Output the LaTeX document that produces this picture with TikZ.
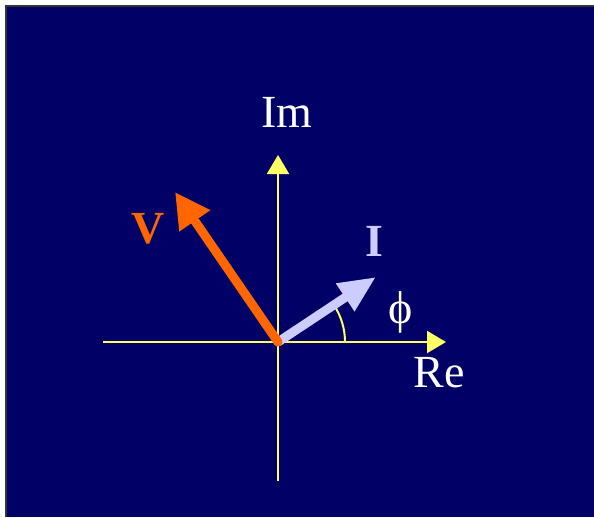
\documentclass[tikz,border=0pt]{standalone}
\usepackage{fontspec}
\setmainfont{Liberation Serif}
\usetikzlibrary{arrows.meta}
\definecolor{navy}{HTML}{000066}
\definecolor{axisyellow}{HTML}{FFFF66}
\definecolor{vorange}{HTML}{FF6600}
\definecolor{ilav}{HTML}{CCCCFF}
\definecolor{frame}{HTML}{333333}
\tikzset{
  axis/.style={draw=axisyellow, line width=2pt, -{Triangle[length=19pt,width=22pt]}},
  phasor/.style={line width=9pt, line cap=round},
  lbl/.style={font=\fontsize{46}{50}\selectfont, text=white, inner sep=0pt},
}
\begin{document}
\begin{tikzpicture}[x=1pt,y=-1pt]
\useasboundingbox (0,0) rectangle (594,517);
\fill[white] (0,0) rectangle (594,517);
\fill[navy] (6,6) rectangle (594,517);
\draw[frame, line width=2pt] (6,517) -- (6,6) -- (594,6);
\coordinate (O) at (278,342);
\coordinate (xl) at (103,342);
\coordinate (xr) at (446,342);
\coordinate (yb) at (278,481);
\coordinate (yt) at (278,155);
\coordinate (vt) at (175,192);
\coordinate (it) at (376,277);
\draw[axis] (xl) -- (xr);
\draw[axis] (yb) -- (yt);
\draw[axisyellow, line width=2pt] (345,342) arc[start angle=0, end angle=-34, radius=67];
\draw[phasor, draw=ilav, -{Triangle[length=37pt,width=31pt]}] (O) -- (it);
\draw[phasor, draw=vorange, -{Triangle[length=35pt,width=35pt]}] (O) -- (vt);
\node[lbl, anchor=base] (im) at (287,127) {Im};
\node[lbl, anchor=base] (re) at (439,387) {Re};
\node[lbl, anchor=center] (phi) at (401,312) {ϕ};
\node[lbl, anchor=base, text=vorange, font=\fontsize{46}{50}\selectfont\bfseries] (V) at (148,243) {V};
\node[lbl, anchor=base, text=ilav, font=\fontsize{46}{50}\selectfont\bfseries] (I) at (374.5,256) {I};
\end{tikzpicture}
\end{document}
